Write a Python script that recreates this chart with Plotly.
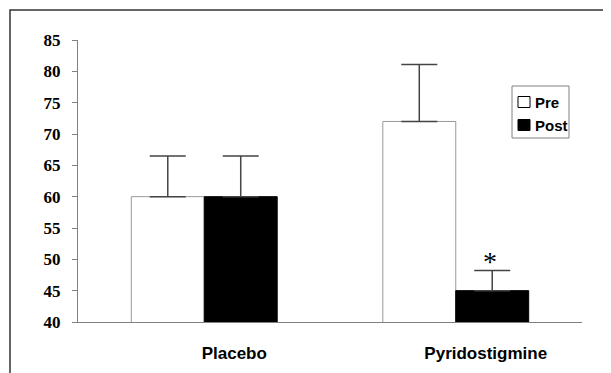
import plotly.graph_objects as go

categories = ["Placebo", "Pyridostigmine"]
series_names = ["Pre", "Post"]
pre_values = [60, 72]
pre_errors = [6.5, 9.1]
post_values = [60, 45]
post_errors = [6.5, 3.2]
y_ticks = [40, 45, 50, 55, 60, 65, 70, 75, 80, 85]

# The page body has an 8px margin; the figure is sized so it fits the window.
OFF = 8
W, H = 611 - OFF, 373 - OFF
PL, PR, PT, PB = 78, 582, 40, 322  # plot area in window pixels


def px(X):
    return (X - PL) / (PR - PL)


def py(Y):
    return (PB - Y) / (PB - PT)


fig = go.Figure()
fig.add_trace(go.Bar(
    name=series_names[0], x=categories, y=pre_values,
    marker=dict(color="white", line=dict(color="#999999", width=1)),
    error_y=dict(type="data", array=pre_errors, arrayminus=[0, 0], symmetric=False,
                 color="#444444", thickness=1.5, width=18),
))
fig.add_trace(go.Bar(
    name=series_names[1], x=categories, y=post_values,
    marker=dict(color="black", line=dict(color="black", width=1)),
    error_y=dict(type="data", array=post_errors, arrayminus=[0, 0], symmetric=False,
                 color="#444444", thickness=1.5, width=18),
))

fig.update_layout(
    width=W, height=H,
    margin=dict(l=PL - OFF, r=W - (PR - OFF), t=PT - OFF, b=H - (PB - OFF), autoexpand=False),
    paper_bgcolor="white", plot_bgcolor="white",
    barmode="group", bargap=0.42, bargroupgap=0,
    showlegend=False,
    font=dict(family="Liberation Sans, Arial", color="black"),
)
fig.update_yaxes(
    range=[40, 85], tickvals=y_ticks, showgrid=False, zeroline=False, automargin=False,
    showline=True, linecolor="#808080", linewidth=1,
    ticks="outside", ticklen=5, tickcolor="#808080", ticklabelstandoff=8,
    tickfont=dict(family="Liberation Serif, Times New Roman", size=17, color="black", weight="bold"),
)
fig.update_xaxes(
    showgrid=False, zeroline=False, showline=True, linecolor="#808080", linewidth=1,
    automargin=False,
    ticks="", ticklabelshift=30, ticklabelstandoff=16,
    tickfont=dict(family="Liberation Sans, Arial", size=17, color="black", weight="bold"),
)

# end ticks of the category axis
for xv in [-0.5, 1.5]:
    fig.add_shape(type="line", xref="x", yref="y", x0=xv, x1=xv, y0=40, y1=39,
                  line=dict(color="#808080", width=1))

# significance marker
fig.add_annotation(x=categories[1], y=post_values[1] + post_errors[1], xref="x", yref="y",
                   text="*", showarrow=False, xshift=34, yanchor="bottom", yshift=-8,
                   font=dict(family="Liberation Serif, Times New Roman", size=28, color="black"))

# legend box (drawn by hand to match the compact original)
fig.add_shape(type="rect", xref="paper", yref="paper",
              x0=px(512), x1=px(569), y0=py(138), y1=py(86),
              line=dict(color="#808080", width=1), fillcolor="white", layer="above")
legend_fills = ["white", "black"]
legend_rows = [102, 125]
for name, fill, yc in zip(series_names, legend_fills, legend_rows):
    fig.add_shape(type="rect", xref="paper", yref="paper",
                  x0=px(518), x1=px(530), y0=py(yc + 5.5), y1=py(yc - 5.5),
                  line=dict(color="black", width=1), fillcolor=fill, layer="above")
    fig.add_annotation(x=px(533), y=py(yc), xref="paper", yref="paper",
                       text=name, showarrow=False, xanchor="left", yanchor="middle",
                       font=dict(family="Liberation Sans, Arial", size=15, color="black",
                                 weight="bold"))

# outer frame
fig.add_shape(type="rect", xref="paper", yref="paper",
              x0=px(10), x1=px(700), y0=py(500), y1=py(10),
              line=dict(color="#333333", width=1.5), layer="below")

fig.write_html("out.html")
